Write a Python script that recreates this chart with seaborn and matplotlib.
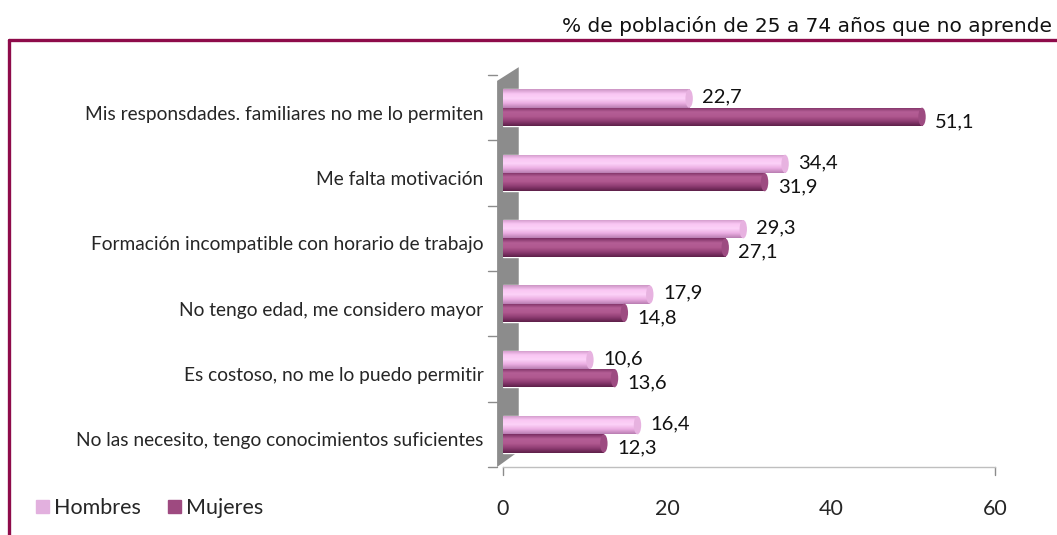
import numpy as np
import pandas as pd
import matplotlib
matplotlib.use("Agg")
import matplotlib.pyplot as plt
import seaborn as sns
from matplotlib.colors import LinearSegmentedColormap
from matplotlib.patches import Polygon, Rectangle, Ellipse
from matplotlib.lines import Line2D
from matplotlib.transforms import ScaledTranslation

categorias = [
    "Mis responsdades. familiares no me lo permiten",
    "Me falta motivación",
    "Formación incompatible con horario de trabajo",
    "No tengo edad, me considero mayor",
    "Es costoso, no me lo puedo permitir",
    "No las necesito, tengo conocimientos suficientes",
]
hombres = [22.7, 34.4, 29.3, 17.9, 10.6, 16.4]
mujeres = [51.1, 31.9, 27.1, 14.8, 13.6, 12.3]
series = ["Hombres", "Mujeres"]
titulo = "% de población de 25 a 74 años que no aprende"
xticks = [0, 20, 40, 60]

col_h = "#F5BAEE"
col_m = "#A24B85"
leg_h = "#E2B0DE"
leg_m = "#9E4A80"
borde = "#8E0B4A"

df = pd.DataFrame({
    "cat": categorias * 2,
    "valor": hombres + mujeres,
    "sexo": [series[0]] * len(categorias) + [series[1]] * len(categorias),
})

sns.set_style("white")
plt.rcParams["font.family"] = ["Lato", "DejaVu Sans"]

fig = plt.figure(figsize=(10.57, 5.35), dpi=100)
ax = fig.add_axes([503 / 1057, 1 - 467 / 535, 492 / 1057, 392 / 535])

sns.barplot(data=df, y="cat", x="valor", hue="sexo", order=categorias,
            hue_order=series, palette=[col_h, col_m], width=0.56,
            orient="h", legend=False, ax=ax, saturation=1)

# cylinder look: gradient clipped to each bar
cm_h = LinearSegmentedColormap.from_list("h", ["#CC94C4", "#F9C6F3", "#FCD2F8", "#EBADE2", "#B97EB2"])
cm_m = LinearSegmentedColormap.from_list("m", ["#7A2E62", "#B45E96", "#B0588F", "#8E3C72", "#5E2049"])
grad = np.linspace(0, 1, 64).reshape(-1, 1)
n = len(categorias)
for i, p in enumerate(ax.patches[:2 * n]):
    cmap = cm_h if i < n else cm_m
    x0, y0 = p.get_x(), p.get_y()
    w, h = p.get_width(), p.get_height()
    im = ax.imshow(grad, cmap=cmap, aspect="auto", extent=[x0, x0 + w, y0 + h, y0],
                   origin="upper", zorder=p.get_zorder() + 0.1)
    im.set_clip_path(p)
    cap = Ellipse((x0 + w, y0 + h / 2), 0.9, h, facecolor=cmap(0.15),
                  edgecolor="none", zorder=p.get_zorder() + 0.2)
    ax.add_patch(cap)

# value labels
for i in range(n):
    ax.text(hombres[i] + 1.6, i - 0.16, f"{hombres[i]:.1f}".replace(".", ","),
            fontsize=14.5, va="center", ha="left", color="#111111")
    ax.text(mujeres[i] + 1.6, i + 0.21, f"{mujeres[i]:.1f}".replace(".", ","),
            fontsize=14.5, va="center", ha="left", color="#111111")

ax.set_xlim(0, 60)
ax.set_ylim(n - 0.5, -0.5)
ax.set_xticks(xticks)
ax.set_xticklabels([str(t) for t in xticks], fontsize=15.5)
ax.tick_params(axis="x", length=0, pad=23)
ax.set_yticks(range(n))
ax.set_yticklabels(categorias, fontsize=13.8)
ax.tick_params(axis="y", length=0, pad=14)
off = ScaledTranslation(0, -5 / 100, fig.dpi_scale_trans)
for lab in ax.get_yticklabels():
    lab.set_transform(lab.get_transform() + off)
ax.set_xlabel("")
ax.set_ylabel("")

for s in ["top", "right", "left"]:
    ax.spines[s].set_visible(False)
ax.spines["bottom"].set_color("#BFBFBF")
ax.spines["bottom"].set_linewidth(1)

# grey back wall and boundary ticks
wall = Polygon([(-0.012, 0.0), (-0.012, 0.985), (0.032, 1.02), (0.032, 0.04)],
               closed=True, transform=ax.transAxes, facecolor="#8C8C8C",
               edgecolor="none", clip_on=False, zorder=0.5)
ax.add_patch(wall)
for k in range(n + 1):
    yk = 1 - k / n
    ax.add_line(Line2D([-0.03, -0.012], [yk, yk], transform=ax.transAxes,
                       color="#8C8C8C", lw=1, clip_on=False))
for xk in [0, 1]:
    ax.add_line(Line2D([xk, xk], [0, -0.02], transform=ax.transAxes,
                       color="#8C8C8C", lw=1, clip_on=False))

# legend
handles = [Rectangle((0, 0), 1, 1, color=leg_h), Rectangle((0, 0), 1, 1, color=leg_m)]
fig.legend(handles, series, loc="center left", bbox_to_anchor=(17 / 1057, 1 - 508 / 535),
           ncol=2, frameon=False, fontsize=15.5, handlelength=0.6, handleheight=0.6,
           handletextpad=0.2, columnspacing=1.3)

# frame and title
fig.add_artist(Line2D([9 / 1057, 9 / 1057], [0, 1 - 40 / 535], color=borde, lw=2.4))
fig.add_artist(Line2D([9 / 1057, 1], [1 - 40 / 535, 1 - 40 / 535], color=borde, lw=2.4))
fig.text(1052 / 1057, 1 - 26 / 535, titulo, ha="right", va="center", fontsize=14.5,
         family=["DejaVu Sans"], color="#111111")

fig.savefig("out.png", dpi=100)
